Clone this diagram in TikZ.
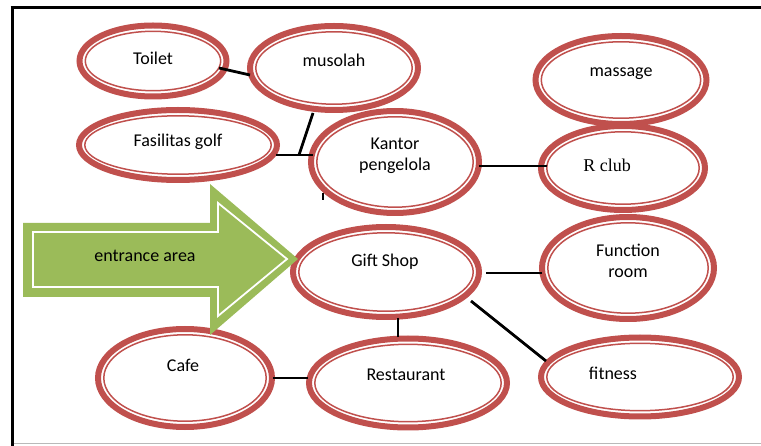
\documentclass[tikz,border=0pt]{standalone}
\usepackage{fontspec}
\setmainfont{Carlito}
\newfontfamily\rserif{Liberation Serif}
\usetikzlibrary{shapes.geometric,calc}
\definecolor{ered}{HTML}{C0504D}
\definecolor{egreen}{HTML}{9BBB59}
\begin{document}
\begin{tikzpicture}[x=1pt,y=-1pt,
  bub/.style 2 args={ellipse, draw=ered, line width=6pt, inner sep=0pt,
    minimum width=#1pt, minimum height=#2pt,
    path picture={\draw[ered, line width=1.5pt]
      let \p1=(path picture bounding box.north east),
          \p2=(path picture bounding box.center) in
      (\p2) ellipse ({\x1-\x2-5.8pt} and {\y1-\y2-5.8pt});}},
  lbl/.style={font=\fontsize{18}{21.5}\selectfont, align=center, text=black, inner sep=0pt},
  conn/.style={line width=2.8pt, black},
  frame/.style={line width=3pt, black}]
\useasboundingbox (0,0) rectangle (761,446);

% frame
\draw[frame] (10.5,8) -- (761,8);
\draw[frame] (12,6.5) -- (12,446);
\draw[gray!55, line width=1.5pt] (13.5,443.5) -- (761,443.5);

% ellipses
\node[bub={147}{71},  label={[lbl,yshift=3]center:Toilet}] (toilet) at (153,61) {};
\node[bub={168}{84},  label={[lbl,yshift=8]center:musolah}] (musolah) at (334,68) {};
\node[bub={198}{70},  label={[lbl,yshift=3]center:Fasilitas golf}] (golf) at (178,145) {};
\node[bub={168}{102}, label={[lbl,yshift=6]center:Kantor\\pengelola}] (kantor) at (395,162) {};
\node[bub={171}{88},  label={[lbl,yshift=6]center:massage}] (massage) at (621,80) {};
\node[bub={164}{84},  label={[lbl,xshift=-16,yshift=3,font=\rserif\fontsize{18}{21.5}\selectfont]center:R club}] (rclub) at (623,168) {};
\node[bub={186}{90},  label={[lbl,xshift=-1,yshift=10]center:Gift Shop}] (gift) at (386,272) {};
\node[bub={172}{102}, label={[lbl,yshift=7]center:Function\\room}] (func) at (628,268) {};
\node[bub={174}{98},  label={[lbl,xshift=-2,yshift=13]center:Cafe}] (cafe) at (185,378) {};
\node[bub={198}{89},  label={[lbl,xshift=-2,yshift=8]center:Restaurant}] (rest) at (408,383) {};
\node[bub={198}{79},  label={[lbl,xshift=-27,yshift=4]center:fitness}] (fit) at (640,377) {};

% connectors
\coordinate (junc) at (299,155);
\coordinate (stubend) at (323,200);
\draw[conn] ($(toilet.center)+(66,7)$) -- ($(musolah.center)+(-84,7)$);
\draw[conn] ($(musolah.center)+(-21,45)$) -- (junc);
\draw[conn] ($(golf.center)+(98,10)$) -- ($(kantor.center)+(-82,-7)$);
\draw[conn] ($(kantor.center)+(-72,31)$) -- (stubend);
\draw[conn] ($(kantor.center)+(84,4)$) -- ($(rclub.center)+(-76,-2)$);
\draw[conn] ($(gift.center)+(100,1)$) -- ($(func.center)+(-86,5)$);
\draw[conn] ($(gift.center)+(12,46)$) -- ($(rest.center)+(-10,-46)$);
\draw[conn] ($(gift.center)+(85,29)$) -- ($(fit.center)+(-94,-16)$);
\draw[conn] ($(cafe.center)+(88,0)$) -- ($(rest.center)+(-100,-5)$);

% entrance arrow
\fill[egreen] (23,223) -- (210,223) -- (210,184) -- (298,259) -- (210,335) -- (210,297) -- (23,297) -- cycle;
\draw[white, line width=1.8pt, line join=miter] (33,232) -- (218,232) -- (218,203) -- (287,259) -- (218,316) -- (218,287) -- (33,287) -- cycle;
\node[lbl] (entrance) at (145,256) {entrance area};
\end{tikzpicture}
\end{document}
